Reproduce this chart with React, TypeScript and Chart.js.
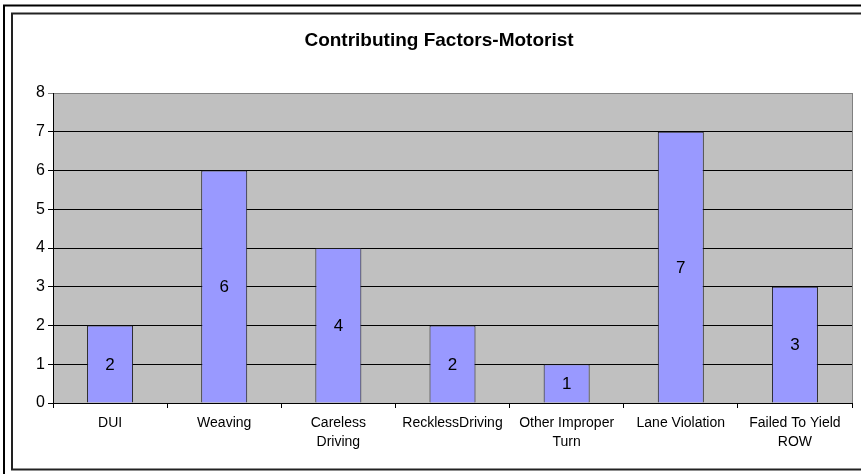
import React, { useEffect, useRef } from "react";
import { Chart, registerables } from "chart.js";

Chart.register(...registerables);

const categories: (string | string[])[] = [
  "DUI",
  "Weaving",
  ["Careless", "Driving"],
  "RecklessDriving",
  ["Other Improper", "Turn"],
  "Lane Violation",
  ["Failed To Yield", "ROW"],
];
const counts: number[] = [2, 6, 4, 2, 1, 7, 3];
const yMin = 0;
const yMax = 8;
const yStep = 1;
const chartTitle = "Contributing Factors-Motorist";

const FONT = "'Liberation Sans', Arial, Helvetica, sans-serif";

const framePlugin = {
  id: "frameAndPlot",
  beforeDraw(chart: any) {
    const { ctx, chartArea } = chart;
    ctx.save();
    ctx.strokeStyle = "#000000";
    ctx.lineWidth = 2;
    ctx.strokeRect(4, 5.5, 920, 520);
    ctx.strokeStyle = "#222222";
    ctx.strokeRect(12, 13.5, 900, 456);
    ctx.fillStyle = "#C0C0C0";
    ctx.fillRect(chartArea.left, chartArea.top, chartArea.right - chartArea.left, chartArea.bottom - chartArea.top);
    ctx.restore();
  },
  afterDraw(chart: any) {
    const { ctx, chartArea } = chart;
    ctx.save();
    ctx.strokeStyle = "#808080";
    ctx.lineWidth = 1;
    ctx.beginPath();
    ctx.moveTo(Math.round(chartArea.right) + 0.5, chartArea.top);
    ctx.lineTo(Math.round(chartArea.right) + 0.5, chartArea.bottom);
    ctx.stroke();
    ctx.restore();
  },
};

const valueLabelPlugin = {
  id: "valueLabels",
  afterDatasetsDraw(chart: any) {
    const { ctx } = chart;
    const meta = chart.getDatasetMeta(0);
    const data = chart.data.datasets[0].data as number[];
    ctx.save();
    ctx.font = `17px ${FONT}`;
    ctx.fillStyle = "#000000";
    ctx.textAlign = "center";
    ctx.textBaseline = "middle";
    meta.data.forEach((bar: any, i: number) => {
      const p = bar.getProps(["x", "y", "base"], true);
      ctx.fillText(String(data[i]), p.x, (p.y + p.base) / 2 + 1);
    });
    ctx.restore();
  },
};

export default function App() {
  const ref = useRef<HTMLCanvasElement | null>(null);

  useEffect(() => {
    if (!ref.current) return;
    const chart = new Chart(ref.current, {
      type: "bar",
      data: {
        labels: categories,
        datasets: [
          {
            data: counts,
            backgroundColor: "#9999FF",
            borderColor: "#1a1a1a",
            borderWidth: 1,
            barPercentage: 0.403,
            categoryPercentage: 1,
          },
        ],
      },
      options: {
        responsive: false,
        animation: false,
        devicePixelRatio: 1,
        layout: { padding: { left: 26, top: 13, right: 9, bottom: 0 } },
        plugins: {
          legend: { display: false },
          tooltip: { enabled: false },
          title: {
            display: true,
            text: chartTitle,
            color: "#000000",
            font: { family: FONT, size: 19, weight: "bold", lineHeight: 1.2 },
            padding: { top: 16, bottom: 41.2 },
          },
        },
        scales: {
          x: {
            offset: true,
            grid: {
              display: true,
              offset: true,
              drawOnChartArea: false,
              drawTicks: true,
              tickLength: 5,
              color: "#000000",
            },
            border: { display: true, color: "#000000", width: 1 },
            ticks: {
              color: "#000000",
              font: { family: FONT, size: 14, lineHeight: 19 / 14 },
              padding: 6,
              maxRotation: 0,
              minRotation: 0,
              autoSkip: false,
            },
            afterFit(scale: any) {
              scale.height = 71;
            },
          },
          y: {
            min: yMin,
            max: yMax,
            grid: {
              color: (c: any) => (c.tick && c.tick.value === yMax ? "#808080" : "#000000"),
              tickLength: 5,
              drawTicks: true,
            },
            border: { display: true, color: "#000000", width: 1 },
            ticks: {
              stepSize: yStep,
              color: "#000000",
              font: { family: FONT, size: 16 },
              padding: 3,
            },
            afterFit(scale: any) {
              scale.width = 27;
            },
          },
        },
      },
      plugins: [framePlugin, valueLabelPlugin],
    });
    return () => chart.destroy();
  }, []);

  return (
    <div style={{ position: "fixed", left: 0, top: 0, width: 861, height: 474, background: "#ffffff" }}>
      <canvas ref={ref} width={861} height={474} style={{ display: "block" }} />
    </div>
  );
}
